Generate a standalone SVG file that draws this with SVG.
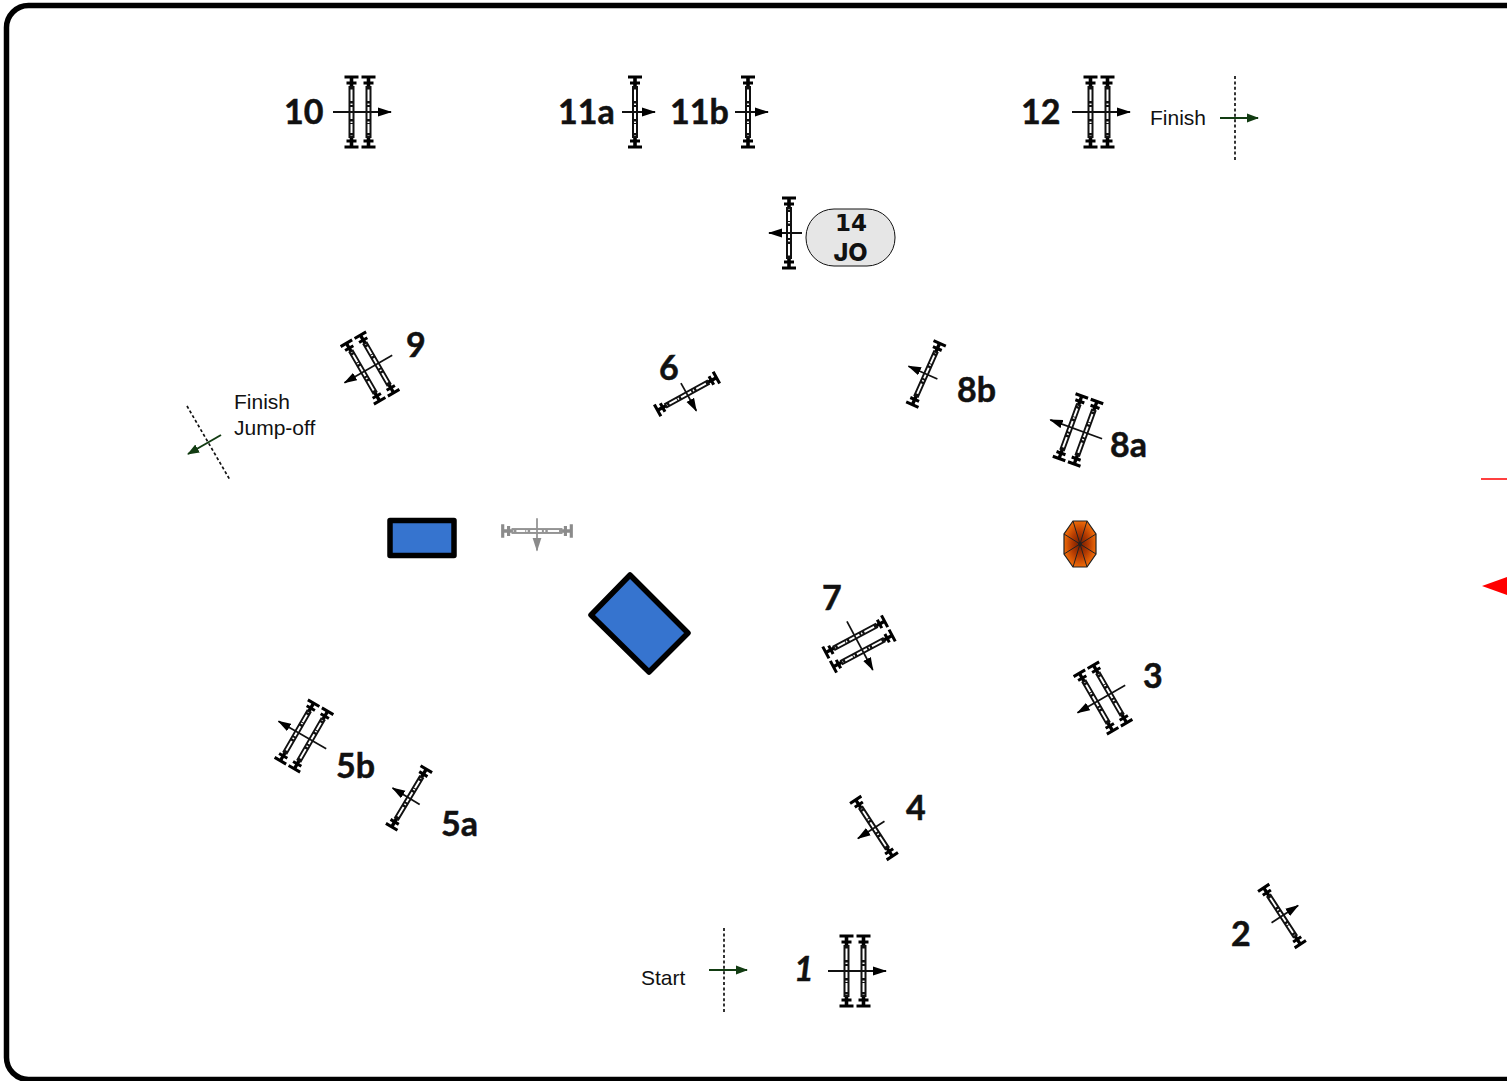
<svg xmlns="http://www.w3.org/2000/svg" width="1507" height="1081" viewBox="0 0 1507 1081">
<style>
.n{font-family:"Lato","Liberation Sans",sans-serif;font-weight:700;font-size:34px;fill:#111;stroke:#111;stroke-width:.5}
.s{font-family:"Liberation Sans",Arial,sans-serif;font-size:21px;fill:#111}
.j{font-family:"DejaVu Sans",sans-serif;font-weight:700;font-size:23px;fill:#111;text-anchor:middle}
.d{stroke:#111;stroke-width:1.7;stroke-dasharray:3 2.4;fill:none}
.g{stroke:#123c12;stroke-width:2;fill:none}
.p{fill:#3674cf;stroke:#000;stroke-width:5.500;stroke-linejoin:round}
</style>
<defs>
<marker id="ma" markerWidth="14" markerHeight="10" refX="13" refY="5" orient="auto" markerUnits="userSpaceOnUse"><path d="M0 .5L14 5L0 9.500Z" fill="#000"/></marker>
<marker id="mg" markerWidth="12" markerHeight="10" refX="11" refY="5" orient="auto" markerUnits="userSpaceOnUse"><path d="M0 .5L12 5L0 9.500Z" fill="#123c12"/></marker>
<radialGradient id="oct"><stop offset="0" stop-color="#6e1a00"/><stop offset=".55" stop-color="#b53c02"/><stop offset="1" stop-color="#ee6a08"/></radialGradient>
<g id="rail">
<path d="M-7 -35H7M-5 -29H5M-7 35H7M-5 29H5" stroke="#000" stroke-width="3.200" fill="none"/>
<path d="M0 -35V-24M0 35V24" stroke="#000" stroke-width="3.600"/>
<rect x="-2" y="-25" width="4" height="50" fill="#fff" stroke="#111" stroke-width="2"/>
<path d="M0 -25V-21M0 -11V-5M0 7V12M0 21V25" stroke="#111" stroke-width="4" stroke-dasharray="2.500 1.500"/>
</g>
<g id="single"><use href="#rail"/><path d="M-13 0H20" stroke="#111" stroke-width="1.800" marker-end="url(#ma)"/></g>
<g id="double"><use href="#rail" x="-8.500"/><use href="#rail" x="8.500"/><path d="M-27 0H31" stroke="#111" stroke-width="1.800" marker-end="url(#ma)"/></g>
</defs>
<rect id="border" x="6.500" y="5.500" width="1560" height="1074" rx="22" fill="#fff" stroke="#000" stroke-width="5.500"/>
<g id="connectors">
<path class="d" d="M724 928V1012"/><path class="g" d="M709 970H747" marker-end="url(#mg)"/>
<path class="d" d="M1235 76V160"/><path class="g" d="M1220 118H1258" marker-end="url(#mg)"/>
<path class="d" d="M187 406L230 480"/><path class="g" d="M221 435L188 454" marker-end="url(#mg)"/>
</g>
<g id="n10"><use href="#double" transform="translate(360 112)"/><text class="n" x="284" y="124">10</text></g>
<g id="n11a"><use href="#single" transform="translate(635 112)"/><text class="n" x="558" y="124">11a</text></g>
<g id="n11b"><use href="#single" transform="translate(748 112)"/><text class="n" x="670" y="124">11b</text></g>
<g id="n12"><use href="#double" transform="translate(1099 112)"/><text class="n" x="1021" y="124">12</text></g>
<g id="nfinish"><text class="s" x="1150" y="125">Finish</text></g>
<g id="n14"><use href="#single" transform="translate(789 233) rotate(180)"/><rect x="806" y="209" width="89" height="57" rx="28" fill="#e6e6e6" stroke="#111" stroke-width="1"/><text class="j" x="851" y="231">14</text><text x="850.500" y="261" font-family="Inter, sans-serif" font-weight="800" font-size="25" fill="#111" text-anchor="middle">JO</text></g>
<g id="n9"><use href="#double" transform="translate(370 368) rotate(150) scale(.95)"/><text class="n" x="406" y="357">9</text></g>
<g id="njo"><text class="s" x="234" y="409">Finish</text><text class="s" x="234" y="435">Jump-off</text></g>
<g id="n6"><use href="#single" transform="translate(687 394) rotate(61) scale(.96)"/><text class="n" x="659" y="380">6</text></g>
<g id="n8b"><use href="#single" transform="translate(926 374) rotate(204) scale(.96)"/><text class="n" x="957" y="402">8b</text></g>
<g id="n8a"><use href="#double" transform="translate(1078 430) rotate(200) scale(.95)"/><text class="n" x="1110" y="457">8a</text></g>
<g id="pool1"><rect class="p" x="390" y="520.500" width="64" height="35"/></g>
<g id="grey" opacity="0.45"><use href="#single" transform="translate(537 531) rotate(90) scale(.98)"/></g>
<g id="pool2"><path class="p" d="M630 575L688 633L649 672L591 615Z"/></g>
<g id="deco"><path d="M1073 521H1087L1096 534V554L1087 567H1073L1064 554V534Z" fill="url(#oct)" stroke="#222" stroke-width="1.200"/><path d="M1073 521L1087 567M1087 521L1073 567M1064 534L1096 554M1096 534L1064 554" stroke="#222" stroke-width="1"/><circle cx="1080" cy="544" r="2" fill="#222"/></g>
<g id="n7"><use href="#double" transform="translate(859 644) rotate(62) scale(.95)"/><text class="n" x="822" y="610">7</text></g>
<g id="n3"><use href="#double" transform="translate(1103 698) rotate(150) scale(.95)"/><text class="n" x="1143" y="688">3</text></g>
<g id="n5b"><use href="#double" transform="translate(304 736) rotate(210) scale(.95)"/><text class="n" x="336" y="778">5b</text></g>
<g id="n5a"><use href="#single" transform="translate(409 798) rotate(211) scale(.96)"/><text class="n" x="441" y="836">5a</text></g>
<g id="n4"><use href="#single" transform="translate(874 828) rotate(147) scale(.96)"/><text class="n" x="906" y="820">4</text></g>
<g id="n2"><use href="#single" transform="translate(1282 916) rotate(-33) scale(.96)"/><text class="n" x="1231" y="946">2</text></g>
<g id="n1"><use href="#double" transform="translate(855 971)"/><text class="n" x="794" y="981" font-style="italic">1</text></g>
<g id="nstart"><text class="s" x="641" y="985">Start</text></g>
<g id="red"><path d="M1481 479H1507" stroke="#f00" stroke-width="1.500"/><path d="M1482 586L1507 577V595Z" fill="#f00"/></g>
</svg>
